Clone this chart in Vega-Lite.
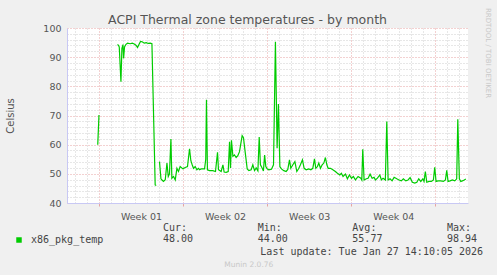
{
  "$schema": "https://vega.github.io/schema/vega-lite/v6.json",
  "autosize": "none",
  "width": 401,
  "height": 175,
  "padding": {"left": 67, "top": 28, "right": 29, "bottom": 72},
  "background": "#f0f0f0",
  "config": {"view": {"stroke": null, "fill": "white"}},
  "title": {"text": "ACPI Thermal zone temperatures - by month", "font": "DejaVu Sans", "fontSize": 12.5, "fontWeight": "normal", "color": "#555555", "anchor": "middle", "dx": -20, "dy": 31, "baseline": "alphabetic", "offset": 2},
  "resolve": {"scale": {"x": "independent", "y": "independent"}, "axis": {"x": "independent", "y": "independent"}},
  "layer": [
    {
      "data": {"values": [
        {"day": -0.10, "t": 60.0, "seg": 1}, {"day": 0.00, "t": 70.0, "seg": 1}, {"day": 0.05, "t": 70.0, "seg": 1},
        {"day": 1.55, "t": 94.4, "seg": 2}, {"day": 1.63, "t": 94.0, "seg": 2}, {"day": 1.69, "t": 93.5, "seg": 2}, {"day": 1.83, "t": 81.6, "seg": 2}, {"day": 1.91, "t": 93.0, "seg": 2}, {"day": 2.00, "t": 94.3, "seg": 2}, {"day": 2.05, "t": 89.6, "seg": 2}, {"day": 2.13, "t": 93.5, "seg": 2}, {"day": 2.25, "t": 94.4, "seg": 2}, {"day": 2.38, "t": 94.8, "seg": 2}, {"day": 2.60, "t": 94.6, "seg": 2}, {"day": 2.77, "t": 94.8, "seg": 2}, {"day": 2.94, "t": 94.5, "seg": 2}, {"day": 3.10, "t": 94.0, "seg": 2}, {"day": 3.21, "t": 93.3, "seg": 2}, {"day": 3.35, "t": 94.5, "seg": 2}, {"day": 3.46, "t": 95.4, "seg": 2}, {"day": 3.60, "t": 95.3, "seg": 2}, {"day": 3.77, "t": 94.8, "seg": 2}, {"day": 3.94, "t": 95.0, "seg": 2}, {"day": 4.10, "t": 94.7, "seg": 2}, {"day": 4.27, "t": 94.8, "seg": 2}, {"day": 4.41, "t": 94.6, "seg": 2}, {"day": 4.68, "t": 46.2, "seg": 2}, {"day": 4.77, "t": 46.0, "seg": 2},
        {"day": 5.04, "t": 54.2, "seg": 3}, {"day": 5.16, "t": 48.3, "seg": 3}, {"day": 5.27, "t": 47.8, "seg": 3}, {"day": 5.37, "t": 47.4, "seg": 3}, {"day": 5.52, "t": 48.0, "seg": 3}, {"day": 5.66, "t": 53.7, "seg": 3}, {"day": 5.77, "t": 49.1, "seg": 3}, {"day": 5.87, "t": 50.0, "seg": 3}, {"day": 5.99, "t": 61.9, "seg": 3}, {"day": 6.07, "t": 48.5, "seg": 3}, {"day": 6.21, "t": 49.1, "seg": 3}, {"day": 6.35, "t": 47.9, "seg": 3}, {"day": 6.49, "t": 51.9, "seg": 3}, {"day": 6.62, "t": 50.8, "seg": 3}, {"day": 6.76, "t": 52.5, "seg": 3}, {"day": 6.99, "t": 51.7, "seg": 3}, {"day": 7.18, "t": 52.2, "seg": 3}, {"day": 7.37, "t": 52.5, "seg": 3}, {"day": 7.54, "t": 58.6, "seg": 3}, {"day": 7.65, "t": 54.5, "seg": 3}, {"day": 7.76, "t": 53.1, "seg": 3}, {"day": 7.87, "t": 51.9, "seg": 3}, {"day": 8.01, "t": 52.5, "seg": 3}, {"day": 8.15, "t": 51.4, "seg": 3}, {"day": 8.29, "t": 51.9, "seg": 3}, {"day": 8.37, "t": 51.4, "seg": 3}, {"day": 8.51, "t": 51.7, "seg": 3}, {"day": 8.79, "t": 51.7, "seg": 3}, {"day": 8.89, "t": 55.0, "seg": 3}, {"day": 8.95, "t": 75.4, "seg": 3}, {"day": 9.03, "t": 51.4, "seg": 3}, {"day": 9.20, "t": 51.1, "seg": 3}, {"day": 9.48, "t": 51.1, "seg": 3}, {"day": 9.70, "t": 50.8, "seg": 3}, {"day": 9.87, "t": 57.4, "seg": 3}, {"day": 9.95, "t": 51.4, "seg": 3}, {"day": 10.17, "t": 50.8, "seg": 3}, {"day": 10.32, "t": 53.1, "seg": 3}, {"day": 10.42, "t": 50.6, "seg": 3}, {"day": 10.59, "t": 50.5, "seg": 3}, {"day": 10.76, "t": 50.8, "seg": 3}, {"day": 10.87, "t": 61.0, "seg": 3}, {"day": 10.95, "t": 52.0, "seg": 3}, {"day": 11.03, "t": 61.5, "seg": 3}, {"day": 11.15, "t": 56.0, "seg": 3}, {"day": 11.28, "t": 56.5, "seg": 3}, {"day": 11.42, "t": 55.6, "seg": 3}, {"day": 11.56, "t": 56.2, "seg": 3}, {"day": 11.70, "t": 57.6, "seg": 3}, {"day": 11.92, "t": 63.1, "seg": 3}, {"day": 12.03, "t": 62.4, "seg": 3}, {"day": 12.20, "t": 56.5, "seg": 3}, {"day": 12.34, "t": 51.7, "seg": 3}, {"day": 12.48, "t": 51.1, "seg": 3}, {"day": 12.67, "t": 51.4, "seg": 3}, {"day": 12.81, "t": 53.1, "seg": 3}, {"day": 12.95, "t": 51.1, "seg": 3}, {"day": 13.09, "t": 52.0, "seg": 3}, {"day": 13.23, "t": 51.0, "seg": 3}, {"day": 13.34, "t": 62.6, "seg": 3}, {"day": 13.44, "t": 53.1, "seg": 3}, {"day": 13.56, "t": 52.2, "seg": 3}, {"day": 13.69, "t": 51.0, "seg": 3}, {"day": 13.79, "t": 56.4, "seg": 3}, {"day": 13.89, "t": 52.5, "seg": 3}, {"day": 14.00, "t": 51.7, "seg": 3}, {"day": 14.14, "t": 51.4, "seg": 3}, {"day": 14.36, "t": 51.6, "seg": 3}, {"day": 14.53, "t": 53.1, "seg": 3}, {"day": 14.69, "t": 95.3, "seg": 3}, {"day": 14.83, "t": 58.8, "seg": 3}, {"day": 14.94, "t": 73.9, "seg": 3}, {"day": 15.06, "t": 52.5, "seg": 3}, {"day": 15.19, "t": 51.7, "seg": 3}, {"day": 15.39, "t": 51.1, "seg": 3}, {"day": 15.58, "t": 50.8, "seg": 3}, {"day": 15.72, "t": 51.5, "seg": 3}, {"day": 15.86, "t": 54.8, "seg": 3}, {"day": 15.97, "t": 51.9, "seg": 3}, {"day": 16.14, "t": 53.1, "seg": 3}, {"day": 16.31, "t": 54.2, "seg": 3}, {"day": 16.47, "t": 50.8, "seg": 3}, {"day": 16.64, "t": 51.9, "seg": 3}, {"day": 16.77, "t": 53.1, "seg": 3}, {"day": 16.94, "t": 54.8, "seg": 3}, {"day": 17.08, "t": 51.9, "seg": 3}, {"day": 17.25, "t": 51.4, "seg": 3}, {"day": 17.47, "t": 51.7, "seg": 3}, {"day": 17.64, "t": 51.4, "seg": 3}, {"day": 17.80, "t": 51.9, "seg": 3}, {"day": 17.94, "t": 55.1, "seg": 3}, {"day": 18.05, "t": 51.9, "seg": 3}, {"day": 18.19, "t": 52.5, "seg": 3}, {"day": 18.30, "t": 53.7, "seg": 3}, {"day": 18.44, "t": 51.9, "seg": 3}, {"day": 18.58, "t": 53.1, "seg": 3}, {"day": 18.72, "t": 53.7, "seg": 3}, {"day": 18.85, "t": 55.6, "seg": 3}, {"day": 18.97, "t": 53.1, "seg": 3}, {"day": 19.08, "t": 51.9, "seg": 3}, {"day": 19.27, "t": 51.9, "seg": 3}, {"day": 19.47, "t": 51.4, "seg": 3}, {"day": 19.68, "t": 50.8, "seg": 3}, {"day": 19.85, "t": 50.2, "seg": 3}, {"day": 20.05, "t": 49.6, "seg": 3}, {"day": 20.18, "t": 50.2, "seg": 3}, {"day": 20.32, "t": 49.1, "seg": 3}, {"day": 20.52, "t": 49.9, "seg": 3}, {"day": 20.68, "t": 48.3, "seg": 3}, {"day": 20.85, "t": 49.6, "seg": 3}, {"day": 21.02, "t": 48.5, "seg": 3}, {"day": 21.18, "t": 49.1, "seg": 3}, {"day": 21.35, "t": 47.9, "seg": 3}, {"day": 21.57, "t": 49.1, "seg": 3}, {"day": 21.80, "t": 48.5, "seg": 3}, {"day": 21.88, "t": 47.9, "seg": 3}, {"day": 21.96, "t": 58.4, "seg": 3}, {"day": 22.07, "t": 47.9, "seg": 3}, {"day": 22.26, "t": 48.3, "seg": 3}, {"day": 22.40, "t": 48.5, "seg": 3}, {"day": 22.57, "t": 49.9, "seg": 3}, {"day": 22.74, "t": 48.5, "seg": 3}, {"day": 22.90, "t": 48.8, "seg": 3}, {"day": 23.01, "t": 47.9, "seg": 3}, {"day": 23.18, "t": 48.5, "seg": 3}, {"day": 23.38, "t": 49.6, "seg": 3}, {"day": 23.51, "t": 47.9, "seg": 3}, {"day": 23.65, "t": 48.5, "seg": 3}, {"day": 23.84, "t": 47.9, "seg": 3}, {"day": 23.96, "t": 67.9, "seg": 3}, {"day": 24.07, "t": 47.9, "seg": 3}, {"day": 24.23, "t": 48.3, "seg": 3}, {"day": 24.40, "t": 47.6, "seg": 3}, {"day": 24.57, "t": 48.8, "seg": 3}, {"day": 24.79, "t": 48.3, "seg": 3}, {"day": 24.98, "t": 47.9, "seg": 3}, {"day": 25.17, "t": 47.6, "seg": 3}, {"day": 25.34, "t": 48.3, "seg": 3}, {"day": 25.54, "t": 47.6, "seg": 3}, {"day": 25.73, "t": 47.9, "seg": 3}, {"day": 25.90, "t": 48.7, "seg": 3}, {"day": 26.09, "t": 47.1, "seg": 3}, {"day": 26.29, "t": 46.8, "seg": 3}, {"day": 26.46, "t": 47.1, "seg": 3}, {"day": 26.62, "t": 48.3, "seg": 3}, {"day": 26.79, "t": 47.4, "seg": 3}, {"day": 26.96, "t": 48.3, "seg": 3}, {"day": 27.06, "t": 47.4, "seg": 3}, {"day": 27.17, "t": 50.8, "seg": 3}, {"day": 27.29, "t": 47.1, "seg": 3}, {"day": 27.48, "t": 47.4, "seg": 3}, {"day": 27.67, "t": 47.4, "seg": 3}, {"day": 27.84, "t": 47.9, "seg": 3}, {"day": 27.95, "t": 52.2, "seg": 3}, {"day": 28.06, "t": 47.4, "seg": 3}, {"day": 28.23, "t": 47.6, "seg": 3}, {"day": 28.45, "t": 47.6, "seg": 3}, {"day": 28.67, "t": 47.4, "seg": 3}, {"day": 28.84, "t": 47.9, "seg": 3}, {"day": 28.95, "t": 51.2, "seg": 3}, {"day": 29.06, "t": 47.4, "seg": 3}, {"day": 29.23, "t": 47.6, "seg": 3}, {"day": 29.42, "t": 47.9, "seg": 3}, {"day": 29.62, "t": 47.6, "seg": 3}, {"day": 29.78, "t": 48.3, "seg": 3}, {"day": 29.87, "t": 68.7, "seg": 3}, {"day": 30.00, "t": 48.3, "seg": 3}, {"day": 30.12, "t": 47.4, "seg": 3}, {"day": 30.25, "t": 47.6, "seg": 3}, {"day": 30.41, "t": 47.9, "seg": 3}, {"day": 30.54, "t": 48.2, "seg": 3}
      ]},
      "mark": {"type": "line", "strokeWidth": 1.2, "clip": true},
      "encoding": {
        "x": {"field": "day", "type": "quantitative",
          "scale": {"domain": [-2.66, 30.72], "nice": false, "zero": false},
          "axis": {
            "values": [-2, -1, 0, 1, 2, 3, 4, 5, 6, 7, 8, 9, 10, 11, 12, 13, 14, 15, 16, 17, 18, 19, 20, 21, 22, 23, 24, 25, 26, 27, 28, 29, 30, 3.5, 10.5, 17.5, 24.5],
            "labelExpr": "datum.value === 3.5 ? 'Week 01' : datum.value === 10.5 ? 'Week 02' : datum.value === 17.5 ? 'Week 03' : datum.value === 24.5 ? 'Week 04' : ''",
            "labelOverlap": false, "labelFlush": false,
            "labelFont": "DejaVu Sans", "labelFontSize": 9.5, "labelColor": "#555555", "labelPadding": 5, "labelBaseline": "top",
            "grid": true, "gridDash": [1, 2], "gridWidth": 1,
            "gridColor": {"condition": {"test": "datum.value % 7 === 0", "value": "#e6a3a3"}, "value": "#cfcfcf"},
            "gridOpacity": {"condition": {"test": "datum.value % 1 !== 0", "value": 0}, "value": 1},
            "ticks": true, "tickSize": 3,
            "tickColor": {"condition": {"test": "datum.value % 7 === 0", "value": "#e6a3a3"}, "value": "transparent"},
            "domainColor": "#c8c8f4", "domainWidth": 1,
            "title": "Munin 2.0.76", "titleFont": "DejaVu Sans", "titleFontSize": 7.5, "titleFontWeight": "normal", "titleColor": "#c8c8c8",
            "titleX": 181.3, "titleY": 61.3, "titleAlign": "center", "titleBaseline": "middle"
          }
        },
        "y": {"field": "t", "type": "quantitative",
          "scale": {"domain": [40, 100], "nice": false, "zero": false},
          "axis": {
            "values": [40, 42, 44, 46, 48, 50, 52, 54, 56, 58, 60, 62, 64, 66, 68, 70, 72, 74, 76, 78, 80, 82, 84, 86, 88, 90, 92, 94, 96, 98, 100],
            "labelExpr": "datum.value % 10 === 0 ? datum.label : ''",
            "labelOverlap": false, "labelFlush": false,
            "labelFont": "DejaVu Sans", "labelFontSize": 9.5, "labelColor": "#555555", "labelPadding": 6,
            "grid": true, "gridDash": [1, 2], "gridWidth": 1,
            "gridColor": {"condition": {"test": "datum.value % 10 === 0", "value": "#e6a3a3"}, "value": "#cfcfcf"},
            "ticks": false,
            "domainColor": "#c8c8f4", "domainWidth": 1,
            "title": "Celsius", "titleFont": "DejaVu Sans", "titleFontSize": 10, "titleFontWeight": "normal", "titleColor": "#555555",
            "titleAngle": -90, "titleX": -57, "titleY": 87.5, "titleAlign": "center", "titleBaseline": "middle"
          }
        },
        "detail": {"field": "seg", "type": "nominal"},
        "color": {"datum": "x86_pkg_temp", "type": "nominal",
          "scale": {"range": ["#00cc00"]},
          "legend": {"orient": "none", "legendX": -53, "legendY": 207, "title": null, "padding": 0,
            "symbolType": "square", "symbolSize": 30, "symbolStrokeWidth": 0, "symbolFillColor": "#00cc00",
            "labelFont": "DejaVu Sans Mono", "labelFontSize": 10, "labelColor": "#444444", "labelOffset": 7}
        }
      }
    },
    {
      "data": {"values": [
        {"col": "Cur", "line": "head", "text": "Cur:"}, {"col": "Cur", "line": "val", "text": "48.00"},
        {"col": "Min", "line": "head", "text": "Min:"}, {"col": "Min", "line": "val", "text": "44.00"},
        {"col": "Avg", "line": "head", "text": "Avg:"}, {"col": "Avg", "line": "val", "text": "55.77"},
        {"col": "Max", "line": "head", "text": "Max:"}, {"col": "Max", "line": "val", "text": "98.94"}
      ]},
      "mark": {"type": "text", "align": "left", "baseline": "alphabetic", "font": "DejaVu Sans Mono", "fontSize": 10, "color": "#444444", "clip": false},
      "encoding": {
        "x": {"field": "col", "type": "nominal",
          "scale": {"type": "point", "domain": ["Cur", "Min", "Avg", "Max"], "range": [96, 380], "padding": 0},
          "axis": {"orient": "bottom", "domain": false, "ticks": false, "labels": false, "grid": false,
            "title": "Last update: Tue Jan 27 14:10:05 2026", "titleFont": "DejaVu Sans Mono", "titleFontSize": 10, "titleFontWeight": "normal", "titleColor": "#444444",
            "titleX": 415.6, "titleY": 51.1, "titleAlign": "right", "titleBaseline": "alphabetic"}
        },
        "y": {"field": "line", "type": "nominal",
          "scale": {"type": "point", "domain": ["head", "val"], "range": [202.6, 214.2], "padding": 0},
          "axis": {"orient": "right", "domain": false, "ticks": false, "labels": false, "grid": false,
            "title": "RRDTOOL / TOBI OETIKER", "titleFont": "DejaVu Sans", "titleFontSize": 7, "titleFontWeight": "normal", "titleColor": "#c8c8c8",
            "titleAngle": 90, "titleX": 19.5, "titleY": 24.5, "titleAlign": "center", "titleBaseline": "middle"}
        },
        "text": {"field": "text", "type": "nominal"}
      }
    }
  ]
}
